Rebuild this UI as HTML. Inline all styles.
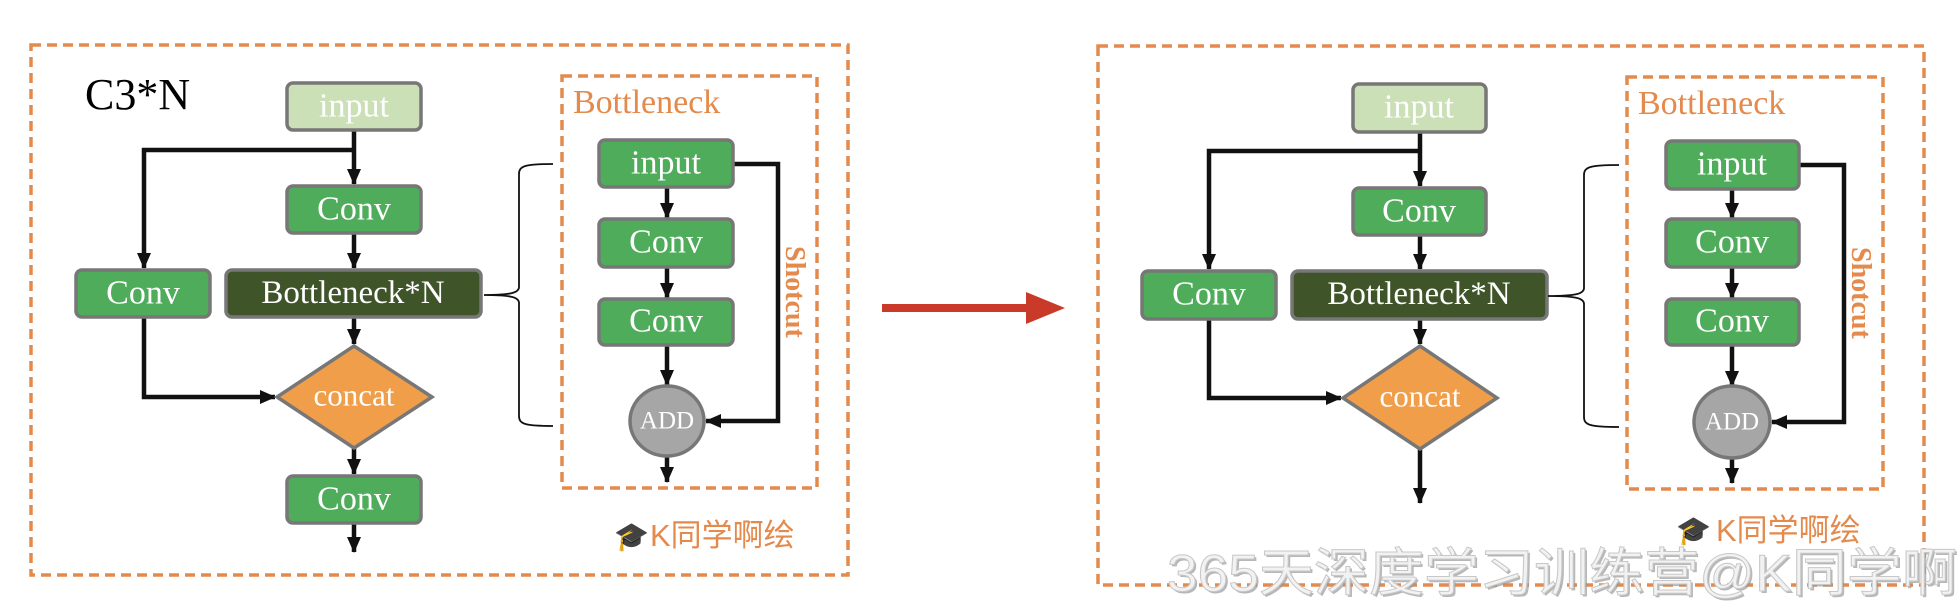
<!DOCTYPE html>
<html><head><meta charset="utf-8"><style>
html,body{margin:0;padding:0;background:#fff;width:1960px;height:606px;overflow:hidden}
svg{display:block}
.t{font-family:"Liberation Serif",serif;fill:#fff;text-anchor:middle;dominant-baseline:central}
.box{stroke:#777;stroke-width:3.5}
.ln{stroke:#111;stroke-width:4.5;fill:none}
.dash{fill:none;stroke:#e38a4c;stroke-width:3.5;stroke-dasharray:10 6}
.or{font-family:"Liberation Serif",serif;fill:#e38a4c}
</style></head><body>
<svg width="1960" height="606" viewBox="0 0 1960 606" xmlns="http://www.w3.org/2000/svg">
<defs>
<marker id="ah" markerWidth="16" markerHeight="14" refX="15" refY="7" orient="auto" markerUnits="userSpaceOnUse" viewBox="0 0 16 14">
<path d="M0,0 L16,7 L0,14 z" fill="#111"/></marker>
</defs>

<!-- LEFT PANEL -->
<rect class="dash" x="31" y="45" width="817" height="530"/>
<text x="85" y="109" font-family="Liberation Serif,serif" font-size="44" fill="#000">C3*N</text>

<path class="ln" d="M354,130 V184" marker-end="url(#ah)"/>
<path class="ln" d="M354,150 H144 V268" marker-end="url(#ah)"/>
<path class="ln" d="M354,233 V268" marker-end="url(#ah)"/>
<path class="ln" d="M354,317 V344" marker-end="url(#ah)"/>
<path class="ln" d="M144,317 V397 H275" marker-end="url(#ah)"/>
<path class="ln" d="M354,448 V474" marker-end="url(#ah)"/>
<path class="ln" d="M354,524 V552" marker-end="url(#ah)"/>

<rect class="box" x="287" y="83" width="134" height="47" rx="6" fill="#cce0b8"/>
<text class="t" x="354" y="106" font-size="34">input</text>
<rect class="box" x="287" y="186" width="134" height="47" rx="6" fill="#4eac5b"/>
<text class="t" x="354" y="209" font-size="34">Conv</text>
<rect class="box" x="226" y="270" width="255" height="47" rx="6" fill="#3f5529"/>
<text class="t" x="353" y="293" font-size="33">Bottleneck*N</text>
<rect class="box" x="76" y="270" width="134" height="47" rx="6" fill="#4eac5b"/>
<text class="t" x="143" y="293" font-size="34">Conv</text>
<polygon class="box" points="354,346 432,397 354,448 277,397" fill="#f09e4a"/>
<text class="t" x="354" y="395" font-size="31">concat</text>
<rect class="box" x="287" y="476" width="134" height="47" rx="6" fill="#4eac5b"/>
<text class="t" x="354" y="499" font-size="34">Conv</text>

<path d="M553,164 C525,164 519,166 519,174 V287 C519,293 510,295 484,295 C510,295 519,297 519,303 V416 C519,424 525,426 553,426" fill="none" stroke="#111" stroke-width="1.8"/>

<rect class="dash" x="562" y="76" width="255" height="412"/>
<text class="or" x="573" y="113" font-size="34">Bottleneck</text>
<path class="ln" d="M667,187 V218" marker-end="url(#ah)"/>
<path class="ln" d="M667,267 V298" marker-end="url(#ah)"/>
<path class="ln" d="M667,345 V385" marker-end="url(#ah)"/>
<path class="ln" d="M667,457 V482" marker-end="url(#ah)"/>
<path class="ln" d="M733,164 H778 V421 H706" marker-end="url(#ah)"/>
<rect class="box" x="599" y="140" width="134" height="47" rx="6" fill="#4eac5b"/>
<text class="t" x="666" y="163" font-size="34">input</text>
<rect class="box" x="599" y="219" width="134" height="48" rx="6" fill="#4eac5b"/>
<text class="t" x="666" y="242" font-size="34">Conv</text>
<rect class="box" x="599" y="299" width="134" height="46" rx="6" fill="#4eac5b"/>
<text class="t" x="666" y="321" font-size="34">Conv</text>
<ellipse class="box" cx="667" cy="421" rx="37" ry="35" fill="#a6a6a6" stroke="#888" stroke-width="2"/>
<text class="t" x="667" y="421" font-size="25">ADD</text>
<text class="or" transform="translate(786,246) rotate(90)" font-size="28" font-weight="bold">Shotcut</text>

<text x="614" y="546" font-size="28" font-family="DejaVu Sans,sans-serif">🎓</text>
<text x="650" y="546" font-size="31" fill="#e38a4c" font-family="Liberation Sans,Noto Sans CJK SC,sans-serif">K同学啊绘</text>

<!-- RED ARROW -->
<path d="M882,304 H1028 V312 H882 z" fill="#c93a28"/>
<polygon points="1026,292 1065,308 1026,324" fill="#c93a28"/>

<!-- RIGHT PANEL -->
<rect class="dash" x="1098" y="46" width="826" height="539"/>
<path class="ln" d="M1420,132 V186" marker-end="url(#ah)"/>
<path class="ln" d="M1420,151 H1209 V269" marker-end="url(#ah)"/>
<path class="ln" d="M1420,235 V269" marker-end="url(#ah)"/>
<path class="ln" d="M1420,319 V344" marker-end="url(#ah)"/>
<path class="ln" d="M1209,319 V398 H1341" marker-end="url(#ah)"/>
<path class="ln" d="M1420,449 V503" marker-end="url(#ah)"/>

<rect class="box" x="1353" y="84" width="133" height="48" rx="6" fill="#cce0b8"/>
<text class="t" x="1419" y="107" font-size="34">input</text>
<rect class="box" x="1353" y="188" width="133" height="47" rx="6" fill="#4eac5b"/>
<text class="t" x="1419" y="211" font-size="34">Conv</text>
<rect class="box" x="1292" y="271" width="255" height="48" rx="6" fill="#3f5529"/>
<text class="t" x="1419" y="294" font-size="33">Bottleneck*N</text>
<rect class="box" x="1142" y="271" width="134" height="48" rx="6" fill="#4eac5b"/>
<text class="t" x="1209" y="294" font-size="34">Conv</text>
<polygon class="box" points="1420,346 1497,398 1420,449 1343,398" fill="#f09e4a"/>
<text class="t" x="1420" y="396" font-size="31">concat</text>

<path d="M1619,165 C1590,165 1584,167 1584,175 V288 C1584,294 1575,296 1548,296 C1575,296 1584,298 1584,304 V417 C1584,425 1590,427 1619,427" fill="none" stroke="#111" stroke-width="1.8"/>

<rect class="dash" x="1627" y="77" width="256" height="412"/>
<text class="or" x="1638" y="114" font-size="34">Bottleneck</text>
<path class="ln" d="M1732,189 V218" marker-end="url(#ah)"/>
<path class="ln" d="M1732,267 V298" marker-end="url(#ah)"/>
<path class="ln" d="M1732,345 V386" marker-end="url(#ah)"/>
<path class="ln" d="M1732,458 V483" marker-end="url(#ah)"/>
<path class="ln" d="M1799,165 H1844 V422 H1772" marker-end="url(#ah)"/>
<rect class="box" x="1666" y="141" width="133" height="48" rx="6" fill="#4eac5b"/>
<text class="t" x="1732" y="164" font-size="34">input</text>
<rect class="box" x="1666" y="219" width="133" height="48" rx="6" fill="#4eac5b"/>
<text class="t" x="1732" y="242" font-size="34">Conv</text>
<rect class="box" x="1666" y="299" width="133" height="46" rx="6" fill="#4eac5b"/>
<text class="t" x="1732" y="321" font-size="34">Conv</text>
<ellipse class="box" cx="1732" cy="422" rx="38" ry="36" fill="#a6a6a6" stroke="#888" stroke-width="2"/>
<text class="t" x="1732" y="422" font-size="25">ADD</text>
<text class="or" transform="translate(1852,247) rotate(90)" font-size="28" font-weight="bold">Shotcut</text>

<text x="1676" y="540" font-size="28" font-family="DejaVu Sans,sans-serif">🎓</text>
<text x="1716" y="541" font-size="31" fill="#e38a4c" font-family="Liberation Sans,Noto Sans CJK SC,sans-serif">K同学啊绘</text>

<!-- big watermark -->
<text x="1167" y="591" font-size="52" textLength="790" lengthAdjust="spacingAndGlyphs" fill="#999" font-family="Liberation Sans,Noto Sans CJK SC,sans-serif" opacity="0.7" transform="translate(2,2)">365天深度学习训练营@K同学啊</text>
<text x="1167" y="591" font-size="52" textLength="790" lengthAdjust="spacingAndGlyphs" fill="#f2f2f2" stroke="#c8c8c8" stroke-width="1" font-family="Liberation Sans,Noto Sans CJK SC,sans-serif">365天深度学习训练营@K同学啊</text>
</svg>
</body></html>
